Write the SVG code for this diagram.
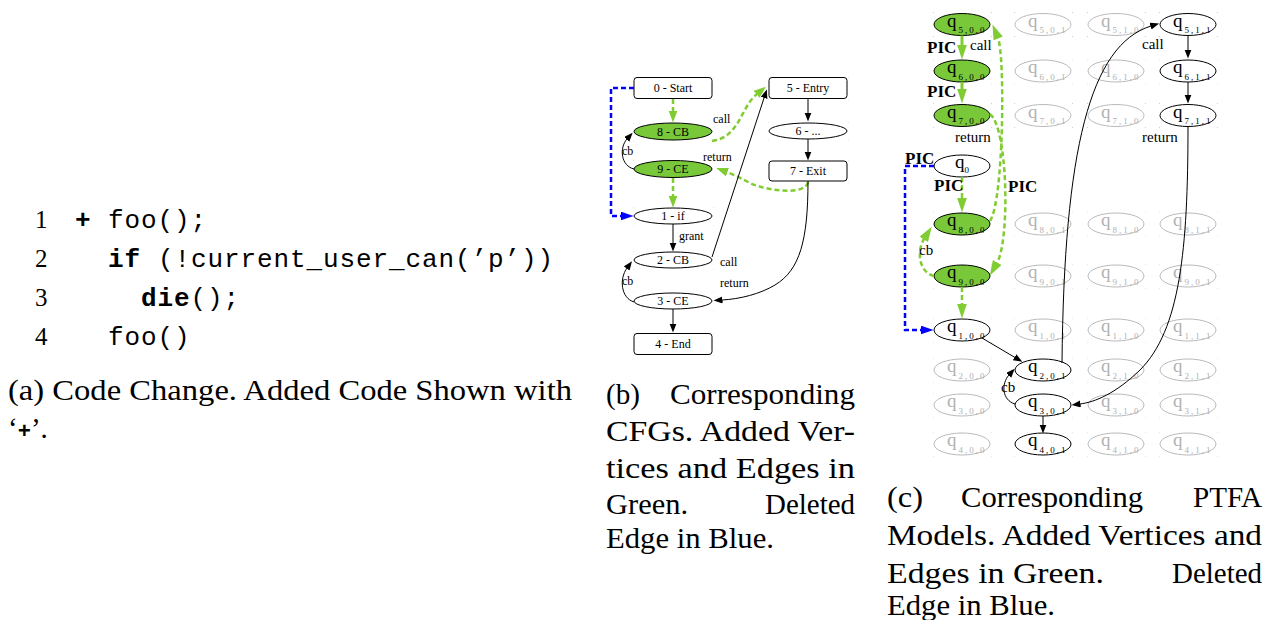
<svg xmlns="http://www.w3.org/2000/svg" width="1276" height="620" viewBox="0 0 1276 620">
<style>
text{font-family:"Liberation Serif","Times New Roman",serif;fill:#000}
.code{font-family:"Liberation Mono","Courier New",monospace;font-size:26px;letter-spacing:0.9px}
.b{font-weight:bold}
.ln{font-size:25px}
.cap{font-size:29px}
.lbl{font-size:12px;text-anchor:middle}
.el{font-size:12px}
.pl{font-size:15px}
.pic{font-size:17px;font-weight:bold}
.q{font-size:19px}
.s{font-size:9px;letter-spacing:2px}
.nw{fill:#fff;stroke:#000;stroke-width:1}
.ng{fill:#78c83a;stroke:#000;stroke-width:1}
.gray ellipse{fill:none;stroke:#bababa;stroke-width:1}
.gray text{fill:#b2b2b2}
.blk ellipse{fill:#fff;stroke:#000;stroke-width:1}
.grn ellipse{fill:#78c83a;stroke:#000;stroke-width:1}
.e{fill:none;stroke:#000;stroke-width:1;marker-end:url(#ab)}
.gd{fill:none;stroke:#80cc33;stroke-width:2.5;stroke-dasharray:5 3}
.gs{fill:none;stroke:#80cc33;stroke-width:3}
.bd{fill:none;stroke:#0000ff;stroke-width:2.5;stroke-dasharray:5 3;marker-end:url(#au)}
.dots{fill:none;stroke:none;marker-start:url(#dot);marker-mid:url(#dot);marker-end:url(#dot)}
</style>
<defs>
<marker id="ab" markerUnits="userSpaceOnUse" markerWidth="12" markerHeight="10" refX="0.5" refY="3.5" orient="auto"><path d="M0,0 L9,3.5 L0,7z" fill="#000"/></marker>
<marker id="ag" markerUnits="userSpaceOnUse" markerWidth="14" markerHeight="10" refX="0.5" refY="4.5" orient="auto"><path d="M0,0 L12,4.5 L0,9z" fill="#80cc33"/></marker>
<marker id="agl" markerUnits="userSpaceOnUse" markerWidth="17" markerHeight="12" refX="0.5" refY="5" orient="auto"><path d="M0,0 L15,5 L0,10z" fill="#80cc33"/></marker>
<marker id="au" markerUnits="userSpaceOnUse" markerWidth="15" markerHeight="10" refX="0.5" refY="4.5" orient="auto"><path d="M0,0 L13,4.5 L0,9z" fill="#0000ff"/></marker>
<marker id="dot" markerUnits="userSpaceOnUse" markerWidth="2" markerHeight="2" refX="0.5" refY="0.5"><rect width="1" height="1" fill="#9a9a9a"/></marker>
</defs>

<!-- (a) code -->
<g id="code">
<text class="ln" x="35" y="228">1</text>
<text class="code" y="228"><tspan class="b" x="75">+</tspan><tspan x="108">foo();</tspan></text>
<text class="ln" x="35" y="267">2</text>
<text class="code" y="267"><tspan class="b" x="108">if</tspan><tspan x="158">(!current_user_can(’p’))</tspan></text>
<text class="ln" x="35" y="306">3</text>
<text class="code" y="306"><tspan class="b" x="141">die</tspan><tspan>();</tspan></text>
<text class="ln" x="35" y="345">4</text>
<text class="code" y="345"><tspan x="108">foo()</tspan></text>
</g>

<g id="captions">
<text class="cap" x="8" y="400" textLength="564" lengthAdjust="spacingAndGlyphs">(a) Code Change.  Added Code Shown with</text>
<text class="cap" x="8" y="438">‘<tspan class="code b" style="font-size:22px;letter-spacing:0">+</tspan>’.</text>

<text class="cap" x="606" y="404" textLength="34" lengthAdjust="spacingAndGlyphs">(b)</text>
<text class="cap" x="670" y="404" textLength="185" lengthAdjust="spacingAndGlyphs">Corresponding</text>
<text class="cap" x="606" y="441" textLength="249" lengthAdjust="spacingAndGlyphs">CFGs.  Added Ver-</text>
<text class="cap" x="606" y="478" textLength="249" lengthAdjust="spacingAndGlyphs">tices and Edges in</text>
<text class="cap" x="606" y="514" textLength="82" lengthAdjust="spacingAndGlyphs">Green.</text>
<text class="cap" x="765" y="514" textLength="90" lengthAdjust="spacingAndGlyphs">Deleted</text>
<text class="cap" x="606" y="548" textLength="168" lengthAdjust="spacingAndGlyphs">Edge in Blue.</text>

<text class="cap" x="887" y="507" textLength="36" lengthAdjust="spacingAndGlyphs">(c)</text>
<text class="cap" x="961" y="507" textLength="182" lengthAdjust="spacingAndGlyphs">Corresponding</text>
<text class="cap" x="1193" y="507" textLength="69" lengthAdjust="spacingAndGlyphs">PTFA</text>
<text class="cap" x="887" y="545" textLength="375" lengthAdjust="spacingAndGlyphs">Models. Added Vertices and</text>
<text class="cap" x="887" y="583" textLength="217" lengthAdjust="spacingAndGlyphs">Edges in Green.</text>
<text class="cap" x="1172" y="583" textLength="90" lengthAdjust="spacingAndGlyphs">Deleted</text>
<text class="cap" x="887" y="615" textLength="168" lengthAdjust="spacingAndGlyphs">Edge in Blue.</text>
</g>

<!-- bounding-box corner dots -->
<g id="corner-dots">
<polyline class="dots" points="633,77 713,77 713,99 633,99"/>
<polyline class="dots" points="633,123 713,123 713,141 633,141"/>
<polyline class="dots" points="633,160 713,160 713,178 633,178"/>
<polyline class="dots" points="633,207 713,207 713,225 633,225"/>
<polyline class="dots" points="633,251 713,251 713,269 633,269"/>
<polyline class="dots" points="633,292 713,292 713,310 633,310"/>
<polyline class="dots" points="633,333 713,333 713,355 633,355"/>
<polyline class="dots" points="768,77 848,77 848,99 768,99"/>
<polyline class="dots" points="768,122 848,122 848,140 768,140"/>
<polyline class="dots" points="768,160 848,160 848,182 768,182"/>
<polyline class="dots" points="933,12.5 991,12.5 1014,12.5 1072,12.5 1087,12.5 1145,12.5 1159,12.5 1217,12.5"/>
<polyline class="dots" points="933,36.5 991,36.5 1014,36.5 1072,36.5 1087,36.5 1145,36.5 1159,36.5 1217,36.5"/>
<polyline class="dots" points="933,59 991,59 1014,59 1072,59 1087,59 1145,59 1159,59 1217,59"/>
<polyline class="dots" points="933,83 991,83 1014,83 1072,83 1087,83 1145,83 1159,83 1217,83"/>
<polyline class="dots" points="933,103.5 991,103.5 1014,103.5 1072,103.5 1087,103.5 1145,103.5 1159,103.5 1217,103.5"/>
<polyline class="dots" points="933,127.5 991,127.5 1014,127.5 1072,127.5 1087,127.5 1145,127.5 1159,127.5 1217,127.5"/>
<polyline class="dots" points="933,154 991,154"/>
<polyline class="dots" points="933,178 991,178"/>
<polyline class="dots" points="933,212 991,212 1014,212 1072,212 1087,212 1145,212 1159,212 1217,212"/>
<polyline class="dots" points="933,236 991,236 1014,236 1072,236 1087,236 1145,236 1159,236 1217,236"/>
<polyline class="dots" points="933,264 991,264 1014,264 1072,264 1087,264 1145,264 1159,264 1217,264"/>
<polyline class="dots" points="933,288 991,288 1014,288 1072,288 1087,288 1145,288 1159,288 1217,288"/>
<polyline class="dots" points="933,318 991,318 1014,318 1072,318 1087,318 1145,318 1159,318 1217,318"/>
<polyline class="dots" points="933,342 991,342 1014,342 1072,342 1087,342 1145,342 1159,342 1217,342"/>
<polyline class="dots" points="933,358 991,358 1014,358 1072,358 1087,358 1145,358 1159,358 1217,358"/>
<polyline class="dots" points="933,382 991,382 1014,382 1072,382 1087,382 1145,382 1159,382 1217,382"/>
<polyline class="dots" points="933,393 991,393 1014,393 1072,393 1087,393 1145,393 1159,393 1217,393"/>
<polyline class="dots" points="933,417 991,417 1014,417 1072,417 1087,417 1145,417 1159,417 1217,417"/>
<polyline class="dots" points="933,432 991,432 1014,432 1072,432 1087,432 1145,432 1159,432 1217,432"/>
<polyline class="dots" points="933,456 991,456 1014,456 1072,456 1087,456 1145,456 1159,456 1217,456"/>
</g>

<!-- (b) CFG nodes -->
<g id="cfg0"><rect class="nw" x="634" y="77.5" width="78" height="21" rx="3"/><text class="lbl" x="673" y="92">0 - Start</text></g>
<g id="cfg8"><ellipse class="ng" cx="673" cy="131.5" rx="39" ry="8.5"/><text class="lbl" x="673" y="136">8 - CB</text></g>
<g id="cfg9"><ellipse class="ng" cx="673" cy="169" rx="39" ry="8.5"/><text class="lbl" x="673" y="173">9 - CE</text></g>
<g id="cfg1"><ellipse class="nw" cx="673" cy="216" rx="39" ry="8"/><text class="lbl" x="673" y="220">1 - if</text></g>
<g id="cfg2"><ellipse class="nw" cx="673" cy="260" rx="39" ry="8"/><text class="lbl" x="673" y="264">2 - CB</text></g>
<g id="cfg3"><ellipse class="nw" cx="673" cy="301" rx="39" ry="8"/><text class="lbl" x="673" y="305">3 - CE</text></g>
<g id="cfg4"><rect class="nw" x="634" y="333.5" width="78" height="21" rx="3"/><text class="lbl" x="673" y="348">4 - End</text></g>
<g id="cfg5"><rect class="nw" x="769" y="77.5" width="78" height="21" rx="3"/><text class="lbl" x="808" y="92">5 - Entry</text></g>
<g id="cfg6"><ellipse class="nw" cx="808" cy="131" rx="39" ry="8"/><text class="lbl" x="808" y="135">6 - ...</text></g>
<g id="cfg7"><rect class="nw" x="769" y="161" width="78" height="20" rx="3"/><text class="lbl" x="808" y="175">7 - Exit</text></g>

<!-- (c) PTFA nodes: column 0 -->
<g id="q500" class="grn"><ellipse cx="962" cy="24.5" rx="28" ry="11"/><text class="q" x="947" y="26.5">q<tspan class="s" dx="2" dy="6.5">5,0,0</tspan></text></g>
<g id="q600" class="grn"><ellipse cx="962" cy="71" rx="28" ry="11"/><text class="q" x="947" y="73">q<tspan class="s" dx="2" dy="6.5">6,0,0</tspan></text></g>
<g id="q700" class="grn"><ellipse cx="962" cy="115.5" rx="28" ry="11"/><text class="q" x="947" y="117.5">q<tspan class="s" dx="2" dy="6.5">7,0,0</tspan></text></g>
<g id="q0" class="blk"><ellipse cx="962" cy="166" rx="28" ry="11"/><text class="q" x="955" y="168">q<tspan class="s" dy="5" style="letter-spacing:0">0</tspan></text></g>
<g id="q800" class="grn"><ellipse cx="962" cy="224" rx="28" ry="11"/><text class="q" x="947" y="226">q<tspan class="s" dx="2" dy="6.5">8,0,0</tspan></text></g>
<g id="q900" class="grn"><ellipse cx="962" cy="276" rx="28" ry="11"/><text class="q" x="947" y="278">q<tspan class="s" dx="2" dy="6.5">9,0,0</tspan></text></g>
<g id="q100" class="blk"><ellipse cx="962" cy="330" rx="28" ry="11"/><text class="q" x="947" y="332">q<tspan class="s" dx="2" dy="6.5">1,0,0</tspan></text></g>
<g id="q200" class="gray"><ellipse cx="962" cy="370" rx="28" ry="11"/><text class="q" x="947" y="372">q<tspan class="s" dx="2" dy="6.5">2,0,0</tspan></text></g>
<g id="q300" class="gray"><ellipse cx="962" cy="405" rx="28" ry="11"/><text class="q" x="947" y="407">q<tspan class="s" dx="2" dy="6.5">3,0,0</tspan></text></g>
<g id="q400" class="gray"><ellipse cx="962" cy="444" rx="28" ry="11"/><text class="q" x="947" y="446">q<tspan class="s" dx="2" dy="6.5">4,0,0</tspan></text></g>
<!-- column 1 -->
<g id="q501" class="gray"><ellipse cx="1043" cy="24.5" rx="28" ry="11"/><text class="q" x="1028" y="26.5">q<tspan class="s" dx="2" dy="6.5">5,0,1</tspan></text></g>
<g id="q601" class="gray"><ellipse cx="1043" cy="71" rx="28" ry="11"/><text class="q" x="1028" y="73">q<tspan class="s" dx="2" dy="6.5">6,0,1</tspan></text></g>
<g id="q701" class="gray"><ellipse cx="1043" cy="115.5" rx="28" ry="11"/><text class="q" x="1028" y="117.5">q<tspan class="s" dx="2" dy="6.5">7,0,1</tspan></text></g>
<g id="q801" class="gray"><ellipse cx="1043" cy="224" rx="28" ry="11"/><text class="q" x="1028" y="226">q<tspan class="s" dx="2" dy="6.5">8,0,1</tspan></text></g>
<g id="q901" class="gray"><ellipse cx="1043" cy="276" rx="28" ry="11"/><text class="q" x="1028" y="278">q<tspan class="s" dx="2" dy="6.5">9,0,1</tspan></text></g>
<g id="q101" class="gray"><ellipse cx="1043" cy="330" rx="28" ry="11"/><text class="q" x="1028" y="332">q<tspan class="s" dx="2" dy="6.5">1,0,1</tspan></text></g>
<g id="q201" class="blk"><ellipse cx="1043" cy="370" rx="28" ry="11"/><text class="q" x="1028" y="372">q<tspan class="s" dx="2" dy="6.5">2,0,1</tspan></text></g>
<g id="q301" class="blk"><ellipse cx="1043" cy="405" rx="28" ry="11"/><text class="q" x="1028" y="407">q<tspan class="s" dx="2" dy="6.5">3,0,1</tspan></text></g>
<g id="q401" class="blk"><ellipse cx="1043" cy="444" rx="28" ry="11"/><text class="q" x="1028" y="446">q<tspan class="s" dx="2" dy="6.5">4,0,1</tspan></text></g>
<!-- column 2 -->
<g id="q510" class="gray"><ellipse cx="1116" cy="24.5" rx="28" ry="11"/><text class="q" x="1101" y="26.5">q<tspan class="s" dx="2" dy="6.5">5,1,0</tspan></text></g>
<g id="q610" class="gray"><ellipse cx="1116" cy="71" rx="28" ry="11"/><text class="q" x="1101" y="73">q<tspan class="s" dx="2" dy="6.5">6,1,0</tspan></text></g>
<g id="q710" class="gray"><ellipse cx="1116" cy="115.5" rx="28" ry="11"/><text class="q" x="1101" y="117.5">q<tspan class="s" dx="2" dy="6.5">7,1,0</tspan></text></g>
<g id="q810" class="gray"><ellipse cx="1116" cy="224" rx="28" ry="11"/><text class="q" x="1101" y="226">q<tspan class="s" dx="2" dy="6.5">8,1,0</tspan></text></g>
<g id="q910" class="gray"><ellipse cx="1116" cy="276" rx="28" ry="11"/><text class="q" x="1101" y="278">q<tspan class="s" dx="2" dy="6.5">9,1,0</tspan></text></g>
<g id="q110" class="gray"><ellipse cx="1116" cy="330" rx="28" ry="11"/><text class="q" x="1101" y="332">q<tspan class="s" dx="2" dy="6.5">1,1,0</tspan></text></g>
<g id="q210" class="gray"><ellipse cx="1116" cy="370" rx="28" ry="11"/><text class="q" x="1101" y="372">q<tspan class="s" dx="2" dy="6.5">2,1,0</tspan></text></g>
<g id="q310" class="gray"><ellipse cx="1116" cy="405" rx="28" ry="11"/><text class="q" x="1101" y="407">q<tspan class="s" dx="2" dy="6.5">3,1,0</tspan></text></g>
<g id="q410" class="gray"><ellipse cx="1116" cy="444" rx="28" ry="11"/><text class="q" x="1101" y="446">q<tspan class="s" dx="2" dy="6.5">4,1,0</tspan></text></g>
<!-- column 3 -->
<g id="q511" class="blk"><ellipse cx="1188" cy="24.5" rx="28" ry="11"/><text class="q" x="1173" y="26.5">q<tspan class="s" dx="2" dy="6.5">5,1,1</tspan></text></g>
<g id="q611" class="blk"><ellipse cx="1188" cy="71" rx="28" ry="11"/><text class="q" x="1173" y="73">q<tspan class="s" dx="2" dy="6.5">6,1,1</tspan></text></g>
<g id="q711" class="blk"><ellipse cx="1188" cy="115.5" rx="28" ry="11"/><text class="q" x="1173" y="117.5">q<tspan class="s" dx="2" dy="6.5">7,1,1</tspan></text></g>
<g id="q811" class="gray"><ellipse cx="1188" cy="224" rx="28" ry="11"/><text class="q" x="1173" y="226">q<tspan class="s" dx="2" dy="6.5">8,1,1</tspan></text></g>
<g id="q901b" class="gray"><ellipse cx="1188" cy="276" rx="28" ry="11"/><text class="q" x="1173" y="278">q<tspan class="s" dx="2" dy="6.5">9,0,1</tspan></text></g>
<g id="q111" class="gray"><ellipse cx="1188" cy="330" rx="28" ry="11"/><text class="q" x="1173" y="332">q<tspan class="s" dx="2" dy="6.5">1,1,1</tspan></text></g>
<g id="q211" class="gray"><ellipse cx="1188" cy="370" rx="28" ry="11"/><text class="q" x="1173" y="372">q<tspan class="s" dx="2" dy="6.5">2,1,1</tspan></text></g>
<g id="q311" class="gray"><ellipse cx="1188" cy="405" rx="28" ry="11"/><text class="q" x="1173" y="407">q<tspan class="s" dx="2" dy="6.5">3,1,1</tspan></text></g>
<g id="q411" class="gray"><ellipse cx="1188" cy="444" rx="28" ry="11"/><text class="q" x="1173" y="446">q<tspan class="s" dx="2" dy="6.5">4,1,1</tspan></text></g>

<!-- connectors -->
<g id="connectors">
<!-- CFG -->
<path class="gd" d="M673,99 L673,111" marker-end="url(#ag)"/>
<path class="gd" d="M673,178 L673,196" marker-end="url(#ag)"/>
<path class="gd" d="M712,141 C740,137 740,108 757,94" marker-end="url(#ag)"/>
<path class="gd" d="M808,182 C806,195 770,192 750,183 C742,179 735,175 727,172" marker-end="url(#ag)"/>
<path class="e" d="M634,169 C621,166 619,148 627,139"/>
<path class="bd" d="M634,88 L611,88 L611,216 L621,216"/>
<path class="e" d="M673,224 L673,243"/>
<path class="e" d="M712,257 L764.2,97.5"/>
<path class="e" d="M808,181 C808,240 800,270 775,285 C760,294 740,299 722,300"/>
<path class="e" d="M634,302 C621,298 619,279 627,268"/>
<path class="e" d="M673,309 L673,324"/>
<path class="e" d="M808,98.5 L808,113"/>
<path class="e" d="M808,139 L808,152"/>
<text class="el" x="713" y="123">call</text>
<text class="el" x="703" y="161">return</text>
<text class="el" x="622" y="155">cb</text>
<text class="el" x="679" y="240">grant</text>
<text class="el" x="720" y="266">call</text>
<text class="el" x="720" y="287">return</text>
<text class="el" x="622" y="285">cb</text>
<!-- PTFA -->
<path class="gs" d="M962,35.5 L962,45" marker-end="url(#agl)"/>
<path class="gs" d="M962,82 L962,89" marker-end="url(#agl)"/>
<path class="gd" d="M962,177 L962,198" marker-end="url(#agl)"/>
<path class="gd" d="M962,287 L962,304" marker-end="url(#agl)"/>
<path class="gd" d="M990,221 C1004,200 1005,55 998,38" marker-end="url(#agl)"/>
<path class="gd" d="M990,114 C1008,128 1010,240 997,263" marker-end="url(#agl)"/>
<path class="gd" d="M934,276 C918,272 917,250 924,239" marker-end="url(#agl)"/>
<path class="bd" d="M934,166 L905,166 L905,330 L921,330"/>
<path class="e" d="M982,338 L1015,357.5"/>
<path class="e" d="M1015,404 C1002,400 1001,384 1009,375"/>
<path class="e" d="M1043,416 L1043,425"/>
<path class="e" d="M1062,363 C1064,150 1090,45 1151,26"/>
<path class="e" d="M1188,35.5 L1188,50"/>
<path class="e" d="M1188,82 L1188,95"/>
<path class="e" d="M1188,126.5 C1188,250 1180,330 1140,370 C1115,394 1095,402 1080,404"/>
<text class="pic" x="927" y="53">PIC</text>
<text class="pl" x="970" y="50">call</text>
<text class="pic" x="927" y="97">PIC</text>
<text class="pl" x="955" y="142">return</text>
<text class="pic" x="905" y="164">PIC</text>
<text class="pic" x="934" y="191">PIC</text>
<text class="pic" x="1008" y="192">PIC</text>
<text class="pl" x="919" y="255">cb</text>
<text class="pl" x="1001" y="392">cb</text>
<text class="pl" x="1142" y="49">call</text>
<text class="pl" x="1142" y="142">return</text>
</g>
</svg>
